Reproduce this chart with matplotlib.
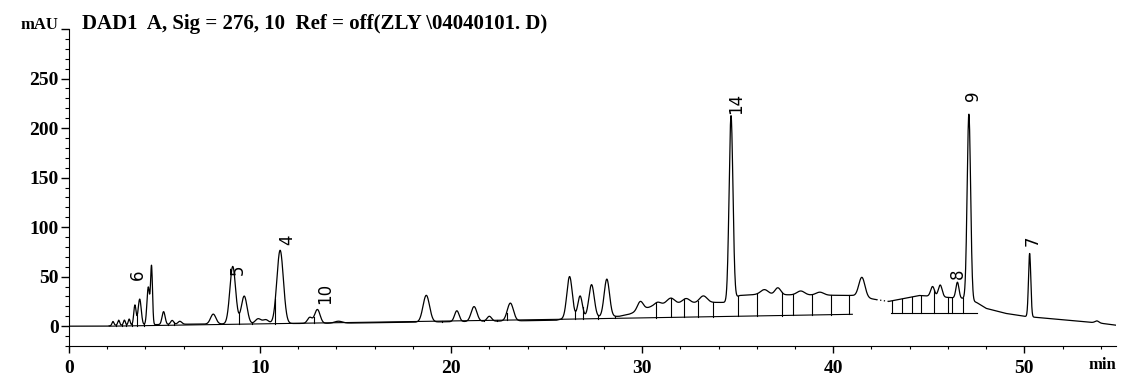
import matplotlib
matplotlib.use("Agg")
import matplotlib.pyplot as plt
import numpy as np

# Peak table: retention time (min), height above background (mAU), sigma (min)
peak_rt = [2.3, 2.6, 2.9, 3.15, 3.45, 3.7, 4.15, 4.32, 4.95, 5.4, 5.8,
           7.55, 8.57, 9.17, 9.9, 10.3, 11.05, 12.6, 13.0, 14.1,
           18.7, 20.3, 21.2, 22.0, 23.1, 26.2, 26.75, 27.35, 28.15,
           29.9, 30.8, 31.5, 32.3, 33.2, 34.65, 36.4, 37.1, 38.3, 39.3,
           41.5, 45.2, 45.6, 46.5, 47.1, 50.28, 53.8]
peak_height = [4, 5, 5, 6, 20, 26, 38, 58, 13, 4, 3,
               10, 58, 28, 5, 4, 74, 6, 14, 2,
               27, 11, 15, 5, 18, 42, 22, 33, 38,
               9, 3, 6, 5, 7, 186, 5, 7, 4, 3,
               20, 10, 12, 16, 188, 64, 2]
peak_sigma = [0.05, 0.05, 0.05, 0.05, 0.06, 0.08, 0.07, 0.05, 0.08, 0.08, 0.1,
              0.14, 0.15, 0.15, 0.15, 0.15, 0.17, 0.12, 0.14, 0.2,
              0.17, 0.12, 0.15, 0.12, 0.16, 0.14, 0.12, 0.14, 0.14,
              0.15, 0.15, 0.2, 0.2, 0.2, 0.1, 0.2, 0.15, 0.2, 0.2,
              0.16, 0.1, 0.1, 0.08, 0.09, 0.06, 0.1]

# Background level of the trace between peaks
bg_time = [0, 2.0, 2.4, 6, 10, 14, 18, 22, 25.5, 26.0, 28.8, 29.3, 30.5, 31.0,
           33.8, 34.4, 35.1, 36, 41, 42.2, 42.9, 44.5, 46.8, 47.5, 48, 49, 50, 51.7, 54, 54.8]
bg_level = [0, 0, 1, 2, 2.5, 3, 4, 5, 6, 8, 10, 12, 20, 22,
            24, 24, 31, 32, 31, 27, 25, 31, 28, 24, 18, 13, 10, 7, 3, 1]

# Integration baselines drawn under the peaks
base_t0 = [2.1, 25.8, 43.0]
base_v0 = [0, 7, 13]
base_t1 = [25.8, 41.0, 47.5]
base_v1 = [7, 12, 13]

# Drop lines from the trace down to the baselines
drop_time = [2.45, 2.75, 3.0, 3.3, 3.55, 3.95, 4.6, 5.2, 5.5, 8.1, 8.9, 9.6, 10.8, 11.6,
             12.8, 19.5, 20.0, 20.7, 21.7, 22.4, 22.9,
             26.5, 26.9, 27.7, 28.6, 30.7, 31.5, 32.2, 32.9, 33.7,
             35.0, 36.0, 37.3, 37.9, 38.9, 39.9, 40.8,
             43.1, 43.6, 44.1, 44.6, 45.3, 46.0, 46.2, 46.8]

# Peak labels: text, time, mAU
label_text = ["6", "5", "4", "10", "14", "8", "9", "7"]
label_x = [3.6, 8.85, 11.4, 13.4, 34.9, 46.5, 47.3, 50.45]
label_y = [52, 57, 87, 33, 225, 53, 233, 86]

t = np.linspace(0, 54.8, 5000)
signal = np.interp(t, bg_time, bg_level)
for rt, h, s in zip(peak_rt, peak_height, peak_sigma):
    signal = signal + h * np.exp(-0.5 * ((t - rt) / s) ** 2)

W, H = 1124, 377
fig = plt.figure(figsize=(W / 100, H / 100), dpi=100)
ax = fig.add_axes([69 / W, 31 / H, (1116 - 69) / W, (346 - 29) / H])

gap = (t > 42.25) & (t < 42.9)
main = signal.copy()
main[gap] = np.nan
ax.plot(t, main, color="black", lw=0.9)
ax.plot(t[gap], signal[gap], color="black", lw=0.9, ls=(0, (1, 2)))

for a0, b0, a1, b1 in zip(base_t0, base_v0, base_t1, base_v1):
    ax.plot([a0, a1], [b0, b1], color="black", lw=0.8)

for d in drop_time:
    top = np.interp(d, t, signal)
    bottom = 0
    for a0, b0, a1, b1 in zip(base_t0, base_v0, base_t1, base_v1):
        if a0 <= d <= a1:
            bottom = b0 + (b1 - b0) * (d - a0) / (a1 - a0)
    ax.plot([d, d], [bottom, top], color="black", lw=0.8)

for txt, x, y in zip(label_text, label_x, label_y):
    ax.text(x, y, txt, rotation=90, ha="center", va="center",
            fontsize=12, family="DejaVu Sans")

ax.set_xlim(0, 54.8)
ax.set_ylim(-20, 300)
for side in ["top", "right"]:
    ax.spines[side].set_visible(False)

serif = "Liberation Serif"
ax.set_xticks([0, 10, 20, 30, 40, 50])
ax.set_xticks(np.arange(2, 55, 2), minor=True)
ax.set_yticks([0, 50, 100, 150, 200, 250, 300])
ax.set_yticklabels(["0", "50", "100", "150", "200", "250", "mAU"])
ax.set_yticks(np.arange(-20, 301, 10), minor=True)
ax.tick_params(axis="x", which="major", length=5, width=1, pad=5)
ax.tick_params(axis="x", which="minor", length=2.5, width=0.8)
ax.tick_params(axis="y", which="major", length=6, width=1, pad=1.5)
ax.tick_params(axis="y", which="minor", length=3, width=0.8)
for lab in ax.get_xticklabels() + ax.get_yticklabels():
    lab.set_family(serif)
    lab.set_fontweight("bold")
    lab.set_fontsize(14)
mau = ax.get_yticklabels()[-1]
mau.set_fontsize(12)
mau.set_va("baseline")

ax.text(54.8, -31, "min", ha="right", va="top",
        fontsize=12, family=serif, fontweight="bold")

fig.text(82 / W, 1 - 29 / H, r"DAD1  A, Sig = 276, 10  Ref = off(ZLY \04040101. D)",
         fontsize=15, family=serif, fontweight="bold", va="baseline")

fig.savefig("out.png", dpi=100)
